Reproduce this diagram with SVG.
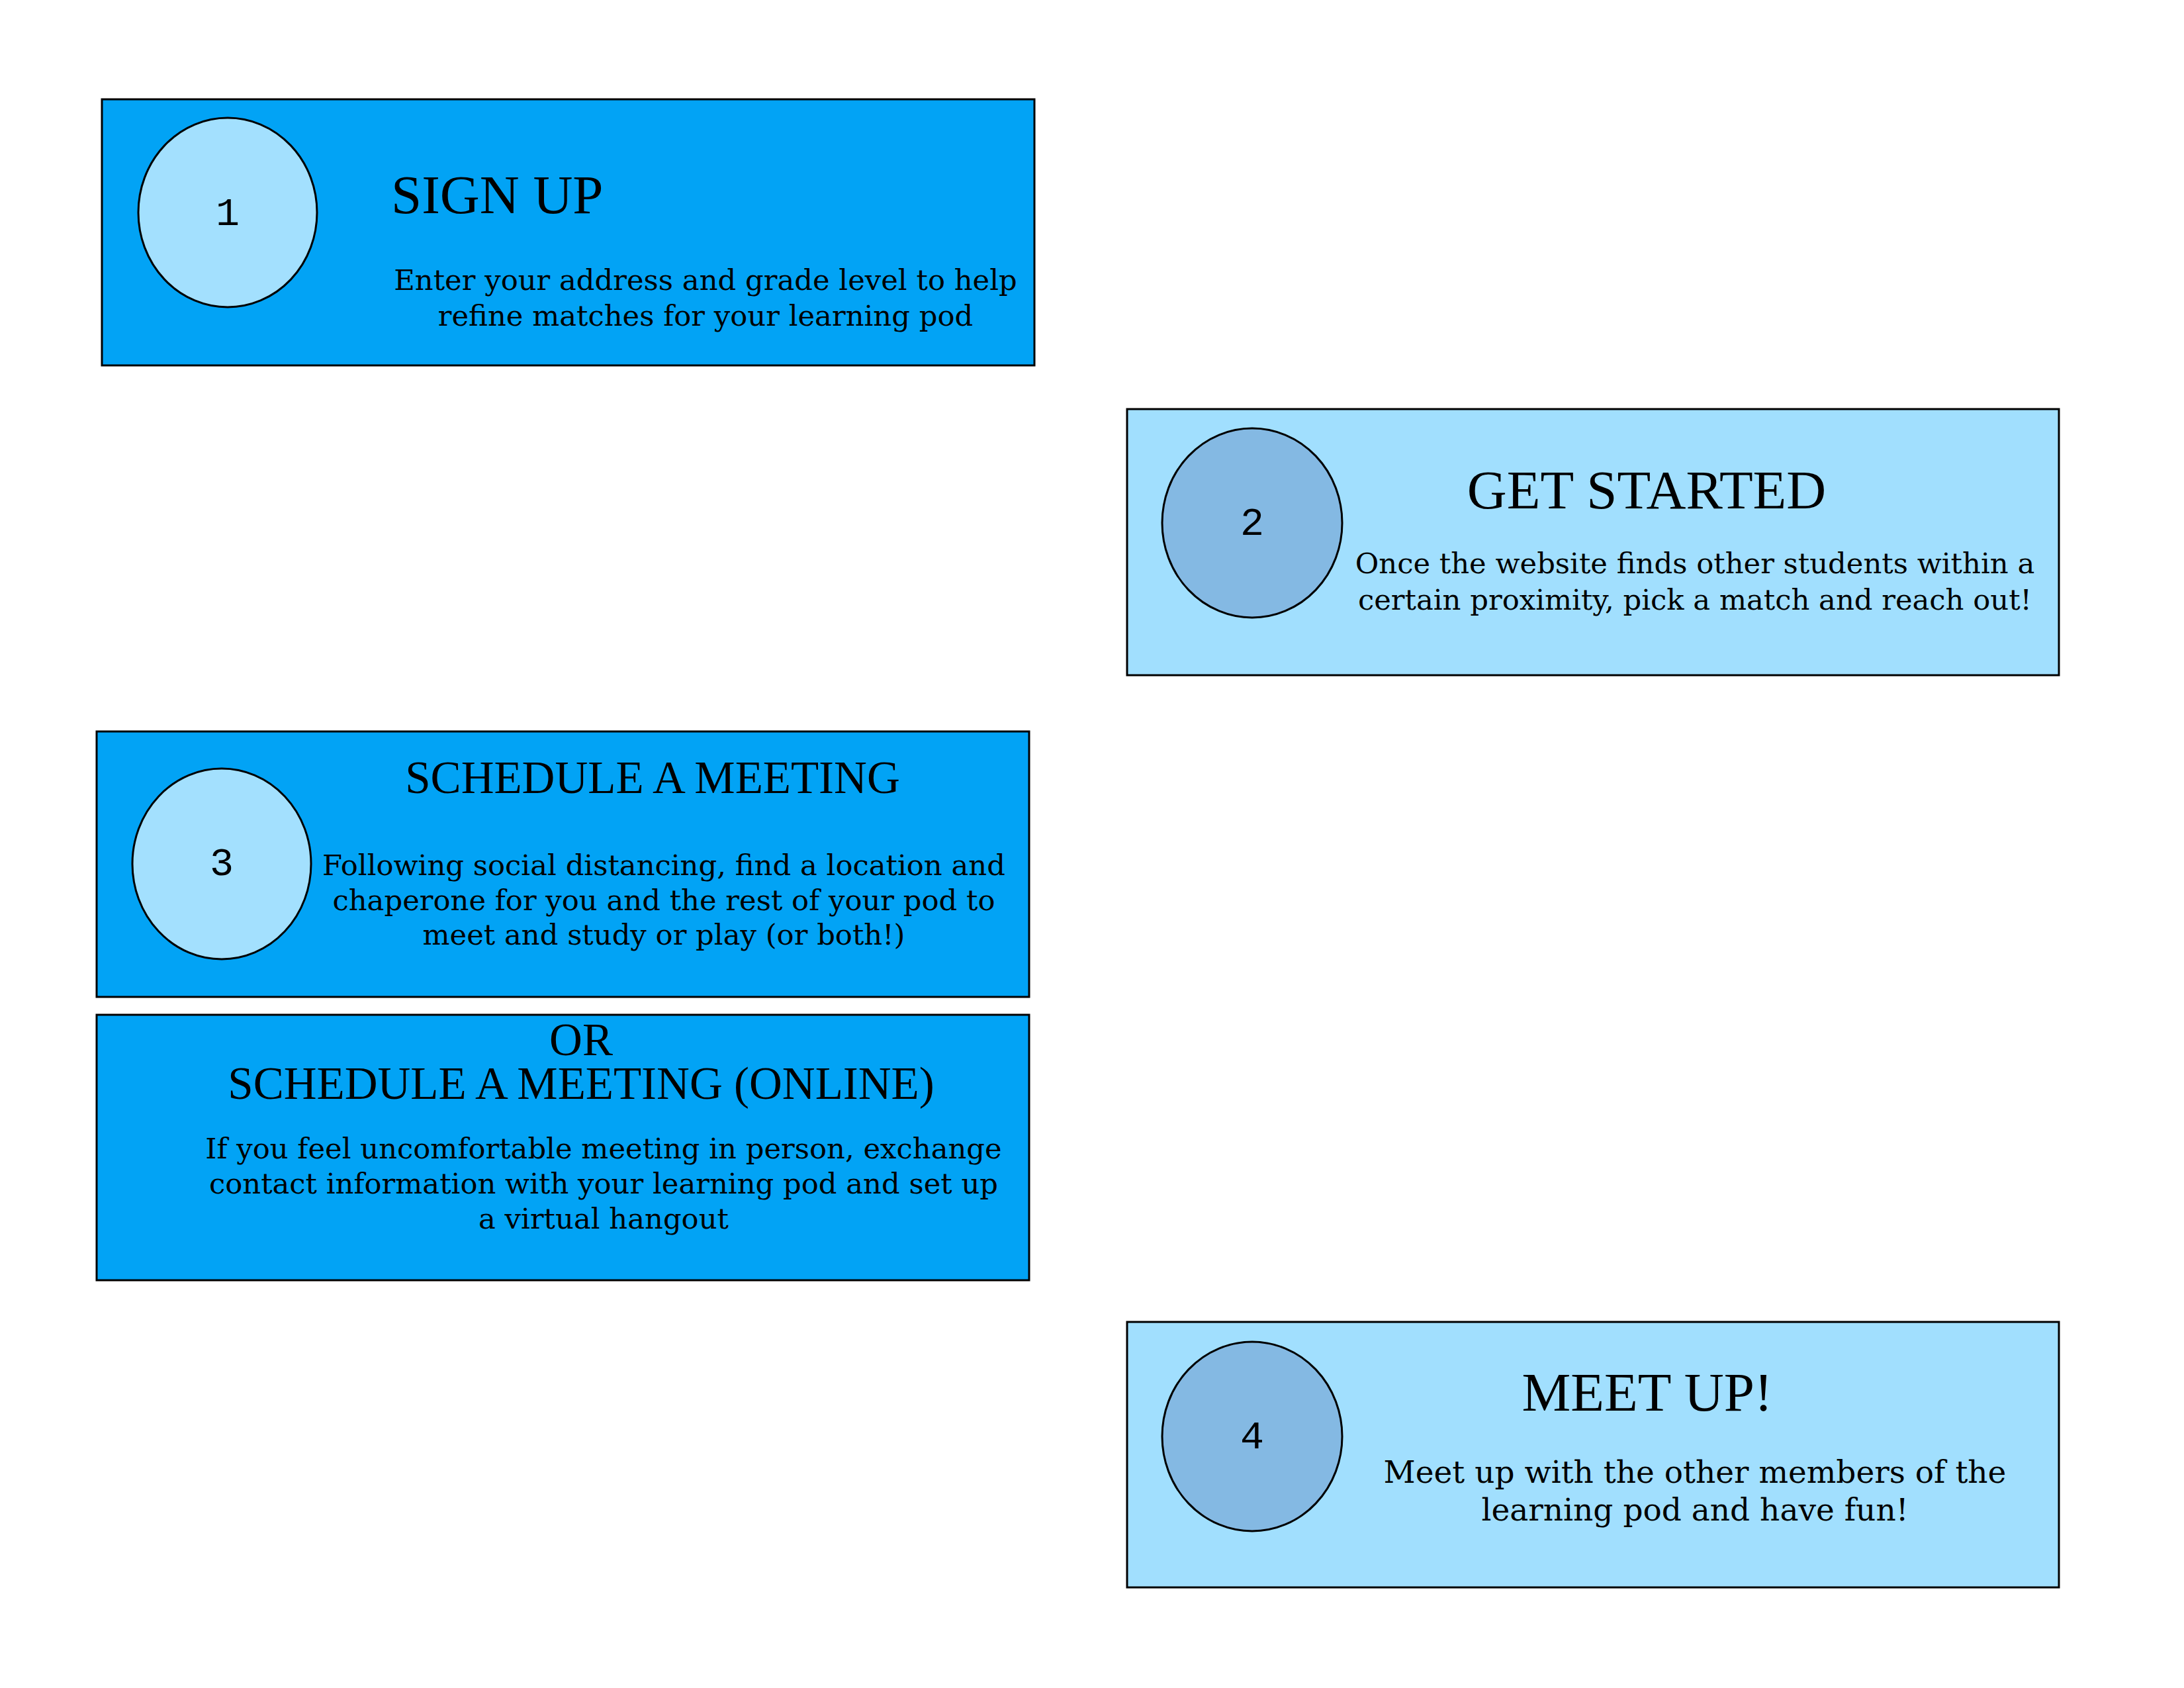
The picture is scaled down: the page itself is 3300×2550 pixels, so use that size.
<svg xmlns="http://www.w3.org/2000/svg" width="3300" height="2550" viewBox="0 0 3300 2550">
<style>
.dark{fill:#02A3F5;stroke:#000;stroke-width:3}
.light{fill:#A1DFFE;stroke:#000;stroke-width:3}
.ell-l{fill:#A3E0FE;stroke:#000;stroke-width:3}
.ell-d{fill:#84B9E3;stroke:#000;stroke-width:3}
.num{font-family:"Liberation Mono",monospace;font-size:60px;fill:#000;text-anchor:middle}
.title{font-family:"Liberation Serif",serif;font-size:83px;fill:#000}
.title2{font-family:"Liberation Serif",serif;font-size:69px;fill:#000;text-anchor:middle}
.body{font-family:"DejaVu Serif",serif;font-size:43.3px;fill:#000;text-anchor:middle}
.body4{font-family:"DejaVu Serif",serif;font-size:47px;fill:#000;text-anchor:middle}
</style>
<rect width="3300" height="2550" fill="#fff"/>
<g id="step1">
<rect class="dark" x="154" y="150" width="1409" height="402"/>
<ellipse class="ell-l" cx="344" cy="321" rx="135" ry="143"/>
<text class="num" x="344" y="340">1</text>
<text class="title" x="591" y="322">SIGN UP</text>
<text class="body" x="1066" y="438">Enter your address and grade level to help</text>
<text class="body" x="1066" y="492">refine matches for your learning pod</text>
</g>
<g id="step2">
<rect class="light" x="1703" y="618" width="1408" height="402"/>
<ellipse class="ell-d" cx="1892" cy="790" rx="136" ry="143"/>
<text class="num" x="1892" y="808">2</text>
<text class="title" x="2488" y="768" text-anchor="middle">GET STARTED</text>
<text class="body" x="2561" y="866">Once the website finds other students within a</text>
<text class="body" x="2561" y="921">certain proximity, pick a match and reach out!</text>
</g>
<g id="step3">
<rect class="dark" x="146" y="1105" width="1409" height="401"/>
<ellipse class="ell-l" cx="335" cy="1305" rx="135" ry="144"/>
<text class="num" x="335" y="1322">3</text>
<text class="title2" x="986" y="1198">SCHEDULE A MEETING</text>
<text class="body" x="1003" y="1322">Following social distancing, find a location and</text>
<text class="body" x="1003" y="1375">chaperone for you and the rest of your pod to</text>
<text class="body" x="1003" y="1427">meet and study or play (or both!)</text>
</g>
<g id="step3b">
<rect class="dark" x="146" y="1533" width="1409" height="401"/>
<text class="title2" x="878" y="1594">OR</text>
<text class="title2" x="878" y="1660">SCHEDULE A MEETING (ONLINE)</text>
<text class="body" x="912" y="1750">If you feel uncomfortable meeting in person, exchange</text>
<text class="body" x="912" y="1803">contact information with your learning pod and set up</text>
<text class="body" x="912" y="1856">a virtual hangout</text>
</g>
<g id="step4">
<rect class="light" x="1703" y="1997" width="1408" height="401"/>
<ellipse class="ell-d" cx="1892" cy="2170" rx="136" ry="143"/>
<text class="num" x="1892" y="2188">4</text>
<text class="title" x="2489" y="2131" text-anchor="middle">MEET UP!</text>
<text class="body4" x="2561" y="2240">Meet up with the other members of the</text>
<text class="body4" x="2561" y="2297">learning pod and have fun!</text>
</g>
<g id="connectors"></g>
</svg>
